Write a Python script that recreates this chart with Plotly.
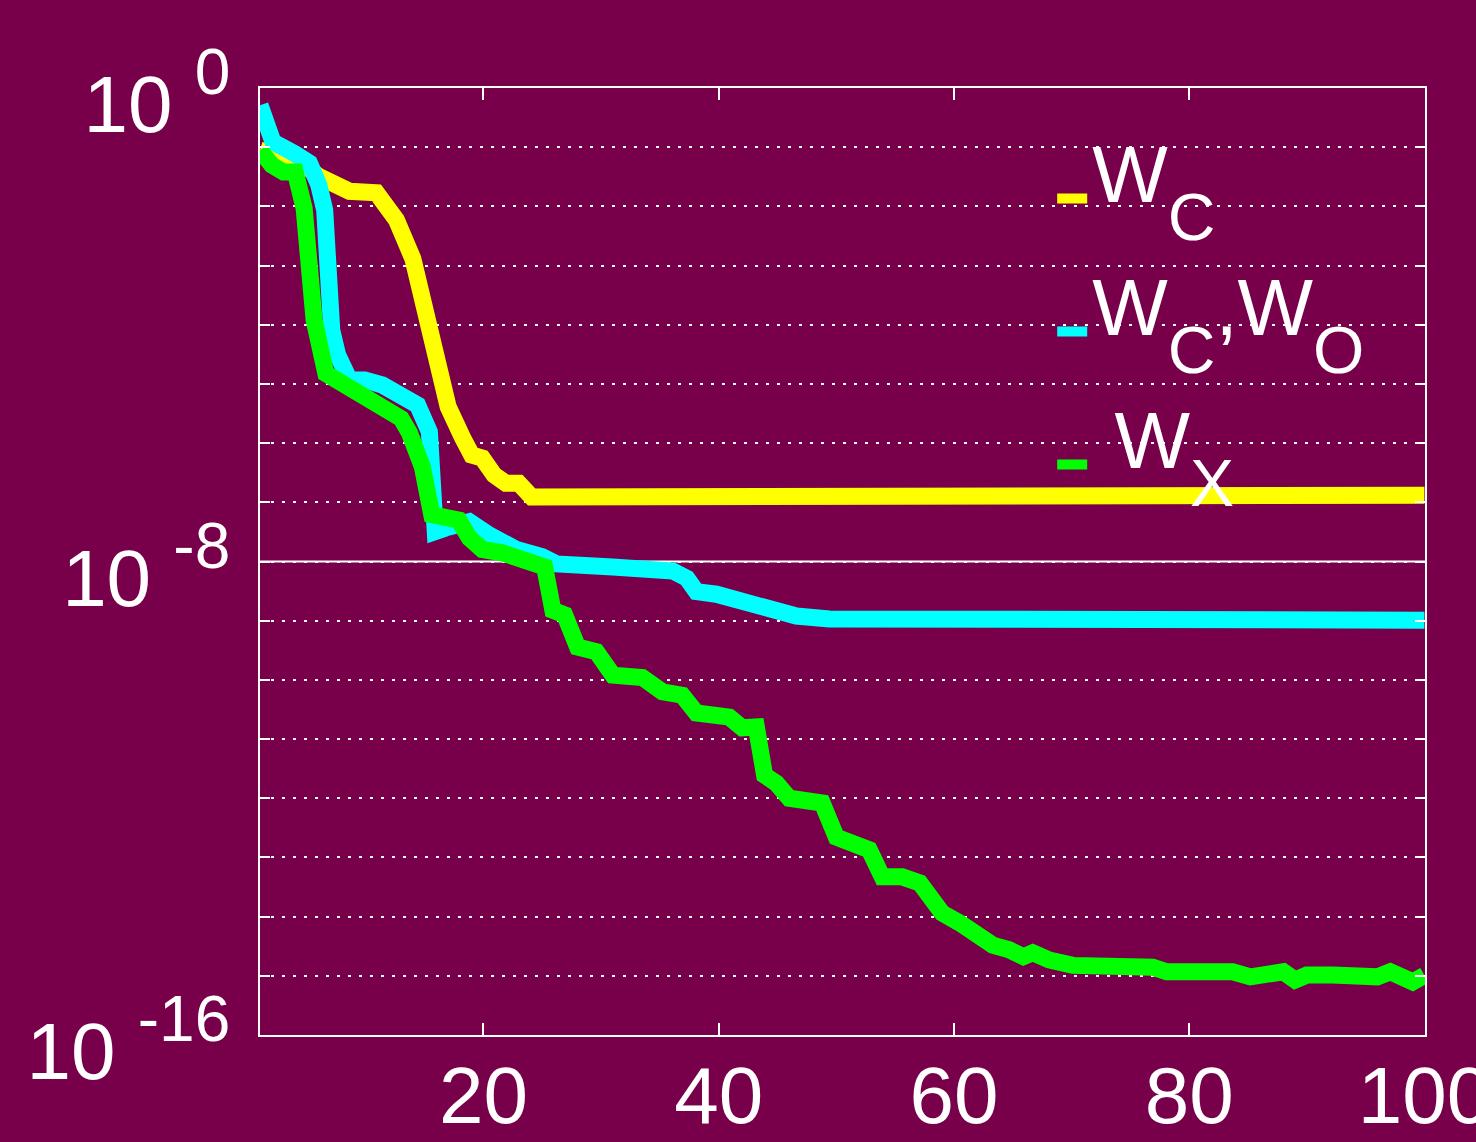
import plotly.graph_objects as go

# ---------------- data ----------------
x_wc = [1, 2.5, 4.5, 6.0, 7.3, 8.6, 10.9, 11.7, 12.6, 14.0, 15.2, 16.3, 17.0, 18.2, 19.0, 19.9,
        20.9, 21.9, 23.0, 24.1, 25.2, 34.1, 100]
y_wc = [8.9e-2, 7.4e-2, 5.6e-2, 3.2e-2, 2.2e-2, 1.8e-2, 1.7e-2, 1.15e-2, 5.9e-3, 1.3e-3, 1.6e-4,
        2.0e-5, 4.1e-6, 1.26e-6, 6.3e-7, 5.6e-7, 2.9e-7, 2.1e-7, 2.1e-7, 1.23e-7, 1.23e-7,
        1.29e-7, 1.32e-7]

x_wcwo = [1, 2.1, 3.9, 5.2, 6.0, 6.5, 7.1, 7.6, 8.6, 9.9, 11.4, 13.3, 14.4, 15.4, 15.9, 16.8,
          18.8, 20.5, 22.8, 25.0, 26.2, 31.0, 36.1, 37.3, 38.1, 39.8, 41.3, 42.6, 43.9, 46.6,
          49.4, 100]
y_wcwo = [5.1e-1, 1.23e-1, 7.9e-2, 5.4e-2, 2.3e-2, 8.7e-3, 8.1e-5, 3.1e-5, 1.17e-5, 1.17e-5,
          9.6e-6, 6.0e-6, 4.4e-6, 1.55e-6, 3.2e-8, 3.7e-8, 4.7e-8, 2.8e-8, 1.6e-8, 1.2e-8,
          9.1e-9, 8.1e-9, 6.9e-9, 5.2e-9, 3.1e-9, 2.8e-9, 2.4e-9, 2.0e-9, 1.6e-9, 1.2e-9,
          1.07e-9, 1.02e-9]

x_wx = [1, 2, 3, 4, 4.75, 5.6, 6.6, 8.3, 10.0, 11.4, 13.0, 13.7, 14.8, 15.6, 16.8, 17.9, 18.8,
        19.9, 21.6, 23.0, 24.5, 25.2, 25.9, 26.9, 28.0, 29.6, 31.0, 33.5, 35.2, 36.9, 38.1,
        40.9, 42.0, 43.2, 43.9, 44.9, 46.0, 47.5, 48.8, 50.0, 51.7, 52.8, 53.9, 55.6, 57.1,
        58.2, 59.0, 60.5, 61.9, 63.3, 64.7, 65.9, 66.7, 68.1, 70.1, 72.4, 73.3, 74.4, 75.8,
        76.9, 78.1, 79.2, 82.0, 83.7, 85.2, 86.9, 88.0, 89.0, 90.0, 92.2, 96.0, 97.1, 98.2,
        99.0, 100]
y_wx = [8.9e-2, 5.0e-2, 3.8e-2, 3.8e-2, 9.3e-3, 1.2e-4, 1.5e-5, 9.5e-6, 5.8e-6, 3.6e-6,
        2.6e-6, 1.5e-6, 4.0e-7, 6.2e-8, 5.5e-8, 5.0e-8, 2.5e-8, 1.6e-8, 1.4e-8, 1.07e-8,
        8.1e-9, 8.1e-9, 1.5e-9, 1.26e-9, 3.6e-10, 3.0e-10, 1.2e-10, 1.1e-10, 6.3e-11,
        5.5e-11, 2.75e-11, 2.35e-11, 1.55e-11, 1.6e-11, 2.45e-12, 1.8e-12, 1.0e-12, 8.3e-13,
        8.3e-13, 2.2e-13, 1.8e-13, 1.35e-13, 4.7e-14, 4.7e-14, 3.7e-14, 2.1e-14, 1.15e-14,
        7.8e-15, 5.3e-15, 3.3e-15, 2.75e-15, 2.1e-15, 2.45e-15, 1.85e-15, 1.5e-15, 1.5e-15,
        1.4e-15, 1.65e-15, 1.5e-15, 1.4e-15, 1.17e-15, 1.17e-15, 1.03e-15, 1.17e-15, 9.6e-16,
        1.03e-15, 1.17e-15, 8.5e-16, 1.03e-15, 1.03e-15, 9.6e-16, 1.17e-15, 9.1e-16, 7.9e-16,
        1.02e-15]

# legend text pieces: main letters lifted, subscripts lowered (gnuplot-like layout)
MAIN = "<span style='baseline-shift:28px'>{}</span>"
SUB = "<span style='font-size:66px;baseline-shift:-10px'>{}</span>"
SUP = "<span style='font-size:64px;baseline-shift:38px'>{}</span>"

series_names = [MAIN.format("W") + SUB.format("C"),
                MAIN.format("W") + SUB.format("C") + MAIN.format(",W") + SUB.format("O"),
                MAIN.format(" W") + SUB.format("X")]
series_colors = ["#ffff00", "#00ffff", "#00ff00"]

x_ticks = [20, 40, 60, 80, 100]
y_decades = [0, -1, -2, -3, -4, -5, -6, -7, -8, -9, -10, -11, -12, -13, -14, -15, -16]
y_labeled = {0: "10 " + SUP.format("0"), -8: "10 " + SUP.format("-8"), -16: "10 " + SUP.format("-16")}
solid_grid_decade = -8

BG = "#78004a"
FONT = "Liberation Sans, Arial, Helvetica, sans-serif"

# ---------------- figure ----------------
fig = go.Figure()
for xs, ys, name, col in zip([x_wc, x_wcwo, x_wx], [y_wc, y_wcwo, y_wx], series_names, series_colors):
    fig.add_trace(go.Scatter(x=xs, y=ys, mode="lines", name=name, legendgroup=name,
                             line=dict(color=col, width=17)))

tickvals = [10.0 ** d for d in y_decades]
ticktext = [y_labeled.get(d, "") for d in y_decades]

fig.add_shape(type="line", xref="paper", x0=0, x1=1, yref="y",
              y0=10.0 ** solid_grid_decade, y1=10.0 ** solid_grid_decade,
              line=dict(color="white", width=2), layer="between")

fig.update_layout(
    width=1476, height=1142,
    paper_bgcolor=BG, plot_bgcolor=BG,
    margin=dict(l=260, r=51, t=88, b=107, autoexpand=False),
    font=dict(family=FONT, color="white", size=80),
    showlegend=True,
    legend=dict(x=0.68, y=0.945, xanchor="left", yanchor="top",
                bgcolor="rgba(0,0,0,0)", font=dict(size=80, color="white", family=FONT),
                tracegroupgap=26, itemwidth=30),
    xaxis=dict(range=[1, 100.05], tickvals=x_ticks, ticks="inside", ticklen=12, tickwidth=1.5,
               tickcolor="white", showline=True, linecolor="white", linewidth=1.5,
               mirror="ticks", showgrid=False, zeroline=False, automargin=False,
               ticklabeloverflow="allow",
               tickfont=dict(size=80, color="white", family=FONT), ticklabelstandoff=-10),
    yaxis=dict(type="log", range=[-16, 0], tickvals=tickvals, ticktext=ticktext,
               ticks="inside", ticklen=10, tickwidth=1.5, tickcolor="white",
               showline=True, linecolor="white", linewidth=1.5, mirror="ticks",
               showgrid=True, gridcolor="white", gridwidth=1.5, griddash="3px,8px",
               zeroline=False, automargin=False, ticklabeloverflow="allow",
               tickfont=dict(size=80, color="white", family=FONT),
               ticklabelstandoff=12, ticklabelshift=16),
)

fig.write_html("out.html", config={"displayModeBar": False},
               post_script="document.body.style.margin='0';document.body.style.overflow='hidden';")
